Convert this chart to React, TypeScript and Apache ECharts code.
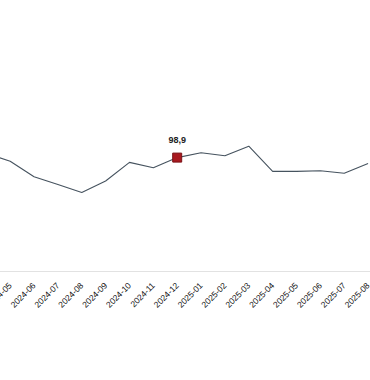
import React, { useEffect, useRef } from "react";
import * as echarts from "echarts";

const categories = [
  "2024-04", "2024-05", "2024-06", "2024-07", "2024-08", "2024-09", "2024-10", "2024-11",
  "2024-12", "2025-01", "2025-02", "2025-03", "2025-04", "2025-05", "2025-06", "2025-07", "2025-08",
];
const values = [99.6, 98.3, 95.7, 94.4, 93.1, 95.0, 98.1, 97.2, 98.9, 99.7, 99.2, 100.8, 96.6, 96.6, 96.7, 96.3, 97.9];
const highlightIndex = 8;

export default function App() {
  const ref = useRef<HTMLDivElement>(null);
  useEffect(() => {
    if (!ref.current) return;
    const chart = echarts.init(ref.current, null, { renderer: "svg" });
    const data = values.map((v, i) =>
      i === highlightIndex
        ? {
            value: v,
            symbol: "rect",
            symbolSize: 9,
            itemStyle: { color: "#a8191f", borderColor: "#7a1216", borderWidth: 1 },
            label: {
              show: true,
              position: "top",
              distance: 8,
              formatter: (p: any) => String(p.value).replace(".", ","),
              fontSize: 9,
              fontWeight: "bold",
              color: "#222",
              fontFamily: "Liberation Sans",
            },
          }
        : { value: v }
    );
    chart.setOption({
      animation: false,
      backgroundColor: "#ffffff",
      grid: { left: 34.4, right: 40, top: 91, bottom: 109, outerBoundsMode: "none" },
      xAxis: {
        type: "category",
        data: categories,
        boundaryGap: true,
        axisLine: { show: true, lineStyle: { color: "#e2e2e2", width: 1 } },
        axisTick: { show: false },
        axisLabel: {
          rotate: 45,
          interval: 0,
          margin: 13,
          fontSize: 8.5,
          color: "#111",
          fontFamily: "Liberation Sans",
        },
        splitLine: { show: false },
      },
      yAxis: {
        type: "value",
        min: 80,
        max: 110,
        show: false,
        splitLine: { show: false },
      },
      series: [
        {
          type: "line",
          data,
          symbol: "none",
          lineStyle: { color: "#46535f", width: 1.1 },
          itemStyle: { color: "#46535f" },
        },
      ],
    });
    return () => chart.dispose();
  }, []);
  return (
    <div style={{ position: "absolute", left: 0, top: 0, width: 370, height: 380, overflow: "hidden", background: "#fff" }}>
      <div ref={ref} style={{ position: "absolute", left: -60, top: 0, width: 480, height: 380 }} />
    </div>
  );
}
